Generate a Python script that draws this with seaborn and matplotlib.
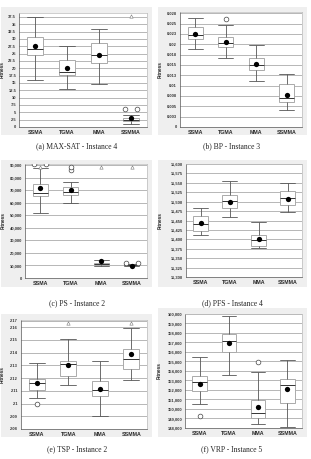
import numpy as np
import pandas as pd
import matplotlib
matplotlib.use('Agg')
import matplotlib.pyplot as plt
import seaborn as sns
from matplotlib.patches import Rectangle


ALGOS = ['SSMA', 'TGMA', 'MMA', 'SSMMA']

# (a) MAX-SAT - Instance 4
maxsat_lo = [16.0, 12.9, 14.8, 1.1]
maxsat_q1 = [24.6, 17.7, 21.9, 2.0]
maxsat_med = [26.6, 18.8, 24.6, 2.5]
maxsat_q3 = [30.5, 22.7, 28.6, 3.0]
maxsat_hi = [37.5, 27.5, 33.4, 4.1]
maxsat_mean = [27.4, 20.0, 24.6, 3.0]
maxsat_out_algo = ['SSMMA', 'SSMMA']
maxsat_out_val = [6.0, 6.0]
maxsat_above = ['SSMMA']
maxsat_ticks = [0, 2.5, 5, 7.5, 10, 12.5, 15, 17.5, 20, 22.5, 25, 27.5, 30, 32.5, 35, 37.5]
maxsat_labels = ['0', '2.5', '5', '7.5', '10', '12.5', '15', '17.5', '20', '22.5', '25',
                 '27.5', '30', '32.5', '35', '37.5']

# (b) BP - Instance 3
bp_lo = [0.0189, 0.0167, 0.0112, 0.0040]
bp_q1 = [0.0212, 0.0194, 0.0138, 0.0061]
bp_med = [0.0223, 0.0202, 0.0149, 0.0070]
bp_q3 = [0.0241, 0.0217, 0.0167, 0.0104]
bp_hi = [0.0263, 0.0246, 0.0198, 0.0128]
bp_mean = [0.0224, 0.0206, 0.0153, 0.0078]
bp_out_algo = ['TGMA']
bp_out_val = [0.0262]
bp_above = []
bp_ticks = [0, 0.0025, 0.005, 0.0075, 0.01, 0.0125, 0.015, 0.0175, 0.02, 0.0225, 0.025, 0.0275]
bp_labels = ['0', '0.003', '0.005', '0.008', '0.01', '0.013', '0.015', '0.018', '0.02',
             '0.023', '0.025', '0.028']

# (c) PS - Instance 2
ps_lo = [51900, 59400, 9850, 9700]
ps_q1 = [65200, 66000, 10650, 10000]
ps_med = [67900, 68200, 11300, 10400]
ps_q3 = [74600, 72700, 12200, 10900]
ps_hi = [87300, 76700, 14400, 11300]
ps_mean = [71400, 69800, 13600, 9900]
ps_out_algo = ['SSMA', 'SSMA', 'TGMA', 'TGMA', 'SSMMA', 'SSMMA']
ps_out_val = [90700, 90700, 85700, 88100, 11700, 11700]
ps_above = ['SSMA', 'MMA', 'SSMMA']
ps_ticks = [0, 10000, 20000, 30000, 40000, 50000, 60000, 70000, 80000, 90000]
ps_labels = [f'{t:,}' for t in ps_ticks]

# (d) PFS - Instance 4
pfs_lo = [11411, 11459, 11377, 11472]
pfs_q1 = [11423, 11484, 11383, 11490]
pfs_med = [11441, 11503, 11398, 11509]
pfs_q3 = [11461, 11518, 11411, 11527]
pfs_hi = [11483, 11556, 11446, 11549]
pfs_mean = [11443, 11500, 11400, 11508]
pfs_out_algo = []
pfs_out_val = []
pfs_above = []
pfs_ticks = [11300, 11325, 11350, 11375, 11400, 11425, 11450, 11475, 11500, 11525,
             11550, 11575, 11600]
pfs_labels = [f'{t:,}' for t in pfs_ticks]

# (e) TSP - Instance 2
tsp_lo = [2.1044, 2.1148, 2.0899, 2.1182]
tsp_q1 = [2.1107, 2.1219, 2.1057, 2.1268]
tsp_med = [2.1161, 2.1310, 2.1109, 2.1351]
tsp_q3 = [2.1195, 2.1333, 2.1174, 2.1429]
tsp_hi = [2.1315, 2.1505, 2.1330, 2.1590]
tsp_mean = [2.1159, 2.1304, 2.1117, 2.1385]
tsp_out_algo = ['SSMA']
tsp_out_val = [2.0995]
tsp_above = ['TGMA', 'SSMMA']
tsp_ticks = [2.08, 2.09, 2.10, 2.11, 2.12, 2.13, 2.14, 2.15, 2.16, 2.165]
tsp_labels = ['2.08', '2.09', '2.1', '2.11', '2.12', '2.13', '2.14', '2.15', '2.16', '2.17']

# (f) VRP - Instance 5
vrp_lo = [150555, 153565, 148420, 148070]
vrp_q1 = [151920, 156050, 149050, 150660]
vrp_med = [152830, 157135, 149575, 152515]
vrp_q3 = [153460, 157905, 150940, 153110]
vrp_hi = [155525, 159760, 153880, 155210]
vrp_mean = [152620, 156960, 150205, 152095]
vrp_out_algo = ['SSMA', 'MMA']
vrp_out_val = [149260, 154965]
vrp_above = []
vrp_ticks = list(range(148000, 160001, 1000))
vrp_labels = [f'{t:,}' for t in vrp_ticks]


W, H = 311, 459

PANELS = [
    dict(title='(a) MAX-SAT - Instance 4', lo=maxsat_lo, q1=maxsat_q1, med=maxsat_med,
         q3=maxsat_q3, hi=maxsat_hi, mean=maxsat_mean, out_algo=maxsat_out_algo,
         out_val=maxsat_out_val, above=maxsat_above, ticks=maxsat_ticks,
         labels=maxsat_labels, ylim=(0, 38.8), ylab_x=5,
         rect=(19, 13, 147, 127), bg=(1, 7, 152, 135), cap=(77, 146)),
    dict(title='(b) BP - Instance 3', lo=bp_lo, q1=bp_q1, med=bp_med, q3=bp_q3, hi=bp_hi,
         mean=bp_mean, out_algo=bp_out_algo, out_val=bp_out_val, above=bp_above,
         ticks=bp_ticks, labels=bp_labels, ylim=(0, 0.0278), ylab_x=163,
         rect=(180, 12, 302, 127), bg=(158, 7, 307, 135), cap=(232, 146)),
    dict(title='(c) PS - Instance 2', lo=ps_lo, q1=ps_q1, med=ps_med, q3=ps_q3, hi=ps_hi,
         mean=ps_mean, out_algo=ps_out_algo, out_val=ps_out_val, above=ps_above,
         ticks=ps_ticks, labels=ps_labels, ylim=(0, 90800), ylab_x=6,
         rect=(25, 164, 147, 278), bg=(1, 160, 152, 287), cap=(77, 303)),
    dict(title='(d) PFS - Instance 4', lo=pfs_lo, q1=pfs_q1, med=pfs_med, q3=pfs_q3,
         hi=pfs_hi, mean=pfs_mean, out_algo=pfs_out_algo, out_val=pfs_out_val,
         above=pfs_above, ticks=pfs_ticks, labels=pfs_labels, ylim=(11300, 11600),
         ylab_x=163, rect=(186, 164, 302, 277), bg=(158, 160, 307, 287), cap=(232, 303)),
    dict(title='(e) TSP - Instance 2', lo=tsp_lo, q1=tsp_q1, med=tsp_med, q3=tsp_q3,
         hi=tsp_hi, mean=tsp_mean, out_algo=tsp_out_algo, out_val=tsp_out_val,
         above=tsp_above, ticks=tsp_ticks, labels=tsp_labels, ylim=(2.08, 2.1655),
         ylab_x=5, rect=(21, 320, 147, 429), bg=(1, 314, 152, 437), cap=(77, 449)),
    dict(title='(f) VRP - Instance 5', lo=vrp_lo, q1=vrp_q1, med=vrp_med, q3=vrp_q3,
         hi=vrp_hi, mean=vrp_mean, out_algo=vrp_out_algo, out_val=vrp_out_val,
         above=vrp_above, ticks=vrp_ticks, labels=vrp_labels, ylim=(148000, 160000),
         ylab_x=162, rect=(185, 314, 302, 428), bg=(158, 308, 307, 437), cap=(232, 449)),
]


def px_rect(x0, y0, x1, y1):
    return [x0 / W, 1 - y1 / H, (x1 - x0) / W, (y1 - y0) / H]


def draw_panel(fig, p):
    bx = px_rect(*p['bg'])
    fig.add_artist(Rectangle((bx[0], bx[1]), bx[2], bx[3], transform=fig.transFigure,
                             facecolor='#efefef', edgecolor='none', zorder=0))
    ax = fig.add_axes(px_rect(*p['rect']))
    ax.set_facecolor('white')

    rows = []
    for i, algo in enumerate(ALGOS):
        for key in ['lo', 'q1', 'med', 'q3', 'hi']:
            rows.append({'Algorithm': algo, 'Fitness': p[key][i]})
    box_df = pd.DataFrame(rows)

    sns.boxplot(data=box_df, x='Algorithm', y='Fitness', order=ALGOS, whis=(0, 100),
                width=0.5, color='white', linecolor='#555555', linewidth=0.6,
                showfliers=False, capwidths=0.5,
                boxprops=dict(edgecolor='#aaaaaa', linewidth=0.7),
                medianprops=dict(color='#333333', linewidth=0.7),
                ax=ax)

    mean_df = pd.DataFrame({'Algorithm': ALGOS, 'Fitness': p['mean']})
    sns.stripplot(data=mean_df, x='Algorithm', y='Fitness', order=ALGOS, jitter=False,
                  color='black', size=3.8, linewidth=0, zorder=5, ax=ax)

    if p['out_algo']:
        out_df = pd.DataFrame({'Algorithm': p['out_algo'], 'Fitness': p['out_val']})
        out_df['n'] = out_df.groupby(['Algorithm', 'Fitness'])['Fitness'].transform('size')
        out_df['side'] = out_df.groupby(['Algorithm', 'Fitness']).cumcount().map({0: 'L', 1: 'R'})
        single = out_df[out_df['n'] == 1]
        double = out_df[out_df['n'] > 1]
        if len(single):
            sns.stripplot(data=single, x='Algorithm', y='Fitness', order=ALGOS, jitter=False,
                          color='white', edgecolor='#444444', linewidth=0.5, size=3.4,
                          zorder=4, ax=ax)
        if len(double):
            sns.stripplot(data=double, x='Algorithm', y='Fitness', order=ALGOS, hue='side',
                          hue_order=['L', 'R'], palette=['white', 'white'], dodge=True,
                          jitter=False, edgecolor='#444444', linewidth=0.5, size=3.4,
                          legend=False, zorder=4, ax=ax)

    lo, hi = p['ylim']
    if p['above']:
        top_df = pd.DataFrame({'Algorithm': p['above'],
                               'Fitness': [hi - 0.03 * (hi - lo)] * len(p['above'])})
        sns.stripplot(data=top_df, x='Algorithm', y='Fitness', order=ALGOS, jitter=False,
                      marker='^', color='white', edgecolor='#777777', linewidth=0.4,
                      size=2.4, zorder=4, ax=ax)

    ax.set_xlim(-0.5, 3.5)
    ax.set_ylim(lo, hi)
    ax.set_yticks(p['ticks'])
    ax.set_yticklabels(p['labels'])
    ax.yaxis.grid(True, color='#9a9a9a', linewidth=0.5)
    ax.xaxis.grid(False)
    ax.set_axisbelow(True)
    ax.set_xlabel('')
    ax.set_ylabel('Fitness', fontsize=3.4, fontweight='bold')
    x0, _, x1, _ = p['rect']
    ax.yaxis.set_label_coords((p['ylab_x'] - x0) / (x1 - x0), 0.5)
    ax.tick_params(axis='y', labelsize=2.9, length=1.2, width=0.4, pad=0.8, colors='#333333')
    ax.tick_params(axis='x', labelsize=3.8, length=0, pad=2.5)
    for lab in ax.get_xticklabels() + ax.get_yticklabels():
        lab.set_fontweight('bold')
    for side in ['top', 'right']:
        ax.spines[side].set_color('#bbbbbb')
        ax.spines[side].set_linewidth(0.5)
    for side in ['left', 'bottom']:
        ax.spines[side].set_color('#555555')
        ax.spines[side].set_linewidth(0.5)

    cx, cy = p['cap']
    fig.text(cx / W, 1 - cy / H, p['title'], ha='center', va='center',
             fontsize=5.5, family='Liberation Serif')


def main():
    sns.set_style('white')
    plt.rcParams['font.family'] = ['Liberation Sans', 'DejaVu Sans']
    fig = plt.figure(figsize=(W / 100, H / 100), dpi=100)
    for p in PANELS:
        draw_panel(fig, p)
    fig.savefig('out.png', dpi=100)
    plt.close(fig)


if __name__ == '__main__':
    main()
